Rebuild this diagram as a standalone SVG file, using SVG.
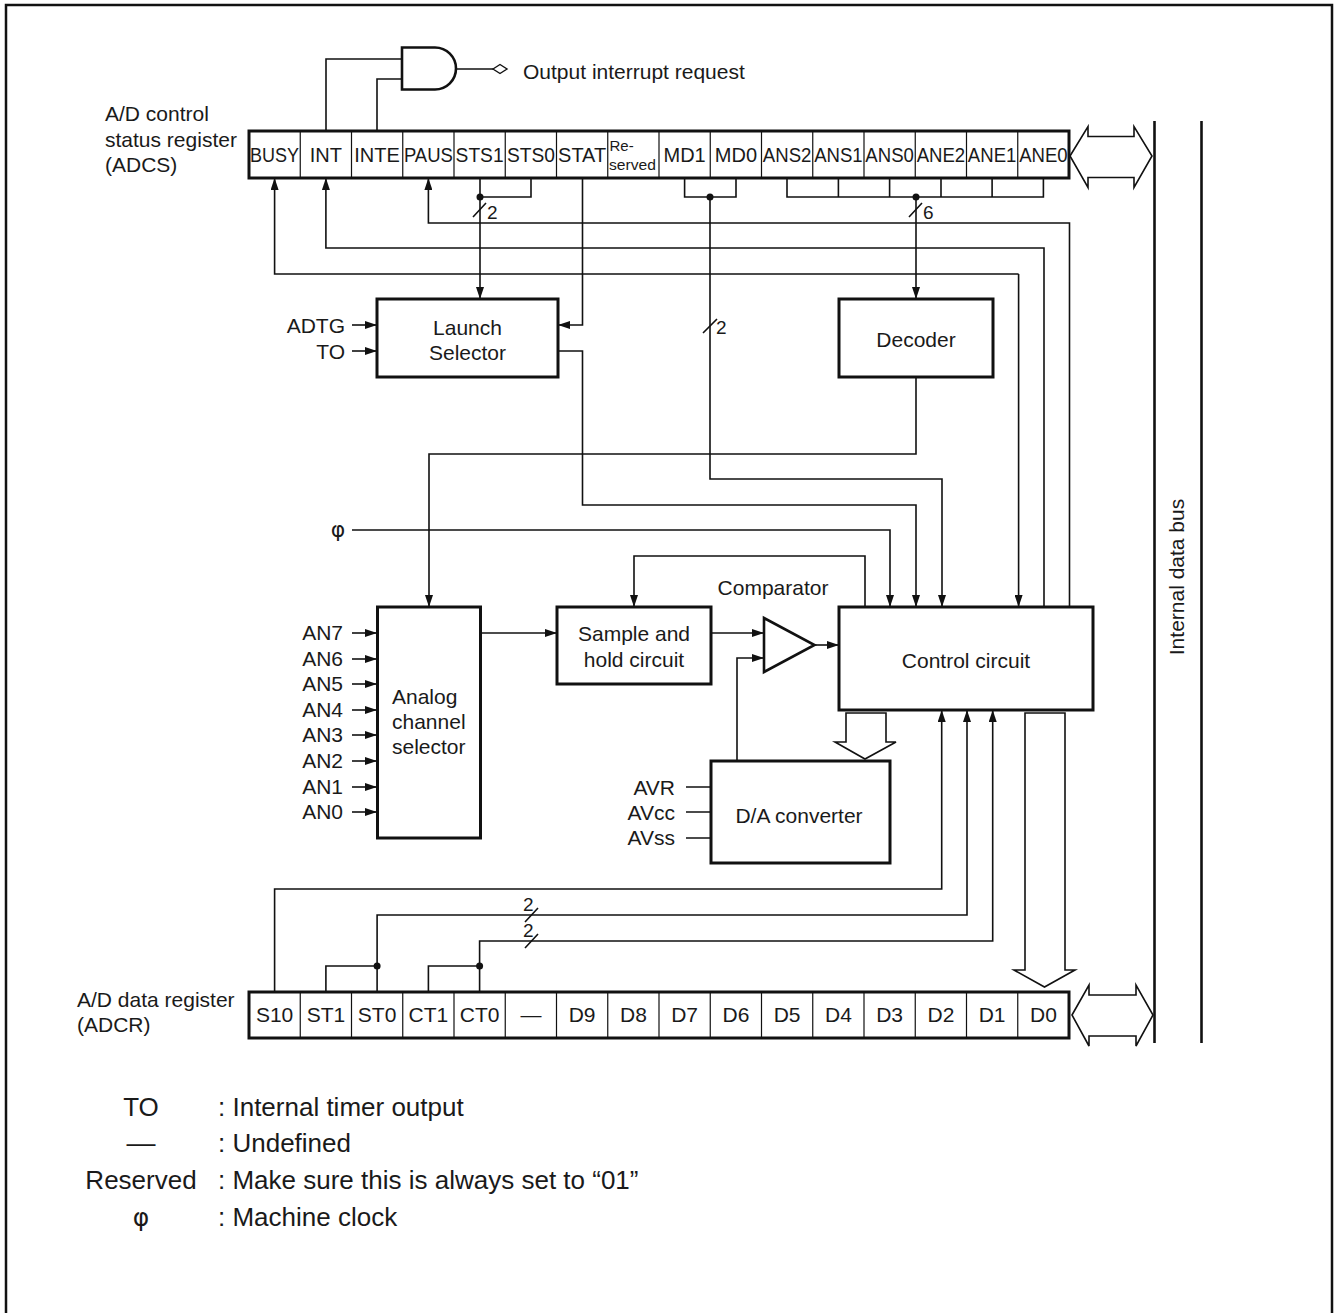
<svg xmlns="http://www.w3.org/2000/svg" width="1338" height="1313" viewBox="0 0 1338 1313">
<style>
.box{fill:#fff;stroke:#111;stroke-width:3}
.reg{fill:#fff;stroke:#111;stroke-width:3}
.sep{stroke:#111;stroke-width:1.2}
.w{fill:none;stroke:#111;stroke-width:1.6}
.fat{fill:#fff;stroke:#111;stroke-width:1.6}
.bus{stroke:#111;stroke-width:2.6}
text{font-family:"Liberation Sans",Arial,Helvetica,sans-serif;fill:#1a1a1a}
.t{font-size:21px}
.m{text-anchor:middle}
.e{text-anchor:end}
.r{font-size:20px;text-anchor:middle}
.phi{font-family:"DejaVu Sans","Noto Sans",sans-serif;font-size:22px;text-anchor:middle}
.lg{font-size:26px}
.dot{fill:#111}
</style>
<defs>
<marker id="ar" markerUnits="userSpaceOnUse" markerWidth="12" markerHeight="8" refX="12" refY="4" orient="auto">
<path d="M0,0 L12,4 L0,8 Z" fill="#111"/>
</marker>
</defs>
<rect width="1338" height="1313" fill="#fff"/>
<path d="M6,1313 V5 H1332 V1313" fill="none" stroke="#111" stroke-width="2.5"/>

<g id="connectors">
<path class="w" d="M326,131 V59 H402"/>
<path class="w" d="M377,131 V79 H402"/>
<path class="w" d="M456,69 H493"/>
<polygon points="493,69 500,64.5 507,69 500,73.5" fill="#fff" stroke="#111" stroke-width="1.4"/>
<path class="w" d="M531,178 V197 H480"/>
<path class="w" d="M480,178 V299" marker-end="url(#ar)"/>
<path class="w" d="M582.5,178 V325 H558" marker-end="url(#ar)"/>
<path class="w" d="M684.6,178 V197 H736 V178"/>
<path class="w" d="M710,197 V479 H942 V607" marker-end="url(#ar)"/>
<path class="w" d="M787,178 V197 H1043.4 V178 M838.4,178 V197 M889.6,178 V197 M941,178 V197 M992.1,178 V197"/>
<path class="w" d="M916,197 V299" marker-end="url(#ar)"/>
<path class="w" d="M1069.5,607 V223 H428.4 V178" marker-end="url(#ar)"/>
<path class="w" d="M1044,607 V248 H325.9 V178" marker-end="url(#ar)"/>
<path class="w" d="M1018.6,274 H274.6 V178" marker-end="url(#ar)"/>
<path class="w" d="M1018.6,274 V607" marker-end="url(#ar)"/>
<path class="w" d="M352,325 H377" marker-end="url(#ar)"/>
<path class="w" d="M352,351 H377" marker-end="url(#ar)"/>
<path class="w" d="M558,351 H582.5 V505 H916 V607" marker-end="url(#ar)"/>
<path class="w" d="M916,377 V454 H429 V607" marker-end="url(#ar)"/>
<path class="w" d="M352,530 H890 V607" marker-end="url(#ar)"/>
<path class="w" d="M865,607 V556 H634 V607" marker-end="url(#ar)"/>
<path class="w" d="M352,633 H377" marker-end="url(#ar)"/>
<path class="w" d="M352,659 H377" marker-end="url(#ar)"/>
<path class="w" d="M352,684 H377" marker-end="url(#ar)"/>
<path class="w" d="M352,710 H377" marker-end="url(#ar)"/>
<path class="w" d="M352,735 H377" marker-end="url(#ar)"/>
<path class="w" d="M352,761 H377" marker-end="url(#ar)"/>
<path class="w" d="M352,787 H377" marker-end="url(#ar)"/>
<path class="w" d="M352,812 H377" marker-end="url(#ar)"/>
<path class="w" d="M480,633 H557" marker-end="url(#ar)"/>
<path class="w" d="M711,633 H764" marker-end="url(#ar)"/>
<path class="w" d="M737,761 V658 H764" marker-end="url(#ar)"/>
<path class="w" d="M814.5,645 H839" marker-end="url(#ar)"/>
<path class="w" d="M686,787 H711 M686,812 H711 M686,838 H711"/>
<path class="w" d="M274.6,992 V889 H941.7 V710" marker-end="url(#ar)"/>
<path class="w" d="M325.9,992 V966 H377.1"/>
<path class="w" d="M377.1,992 V915 H967 V710" marker-end="url(#ar)"/>
<path class="w" d="M428.4,992 V966 H479.6"/>
<path class="w" d="M479.6,992 V941 H992.7 V710" marker-end="url(#ar)"/>
<circle class="dot" cx="480" cy="197" r="3.5"/>
<circle class="dot" cx="710" cy="197" r="3.5"/>
<circle class="dot" cx="916" cy="197" r="3.5"/>
<circle class="dot" cx="377.1" cy="966" r="3.5"/>
<circle class="dot" cx="479.6" cy="966" r="3.5"/>
<path class="w" d="M473,217 L486,203 M909,217 L922,203 M703,333 L717,319 M525,922 L538,908 M525,948 L538,934"/>
<text class="t" x="487" y="219" style="font-size:19px">2</text>
<text class="t" x="923" y="219" style="font-size:19px">6</text>
<text class="t" x="716" y="334" style="font-size:19px">2</text>
<text class="t" x="523" y="911" style="font-size:19px">2</text>
<text class="t" x="523" y="937" style="font-size:19px">2</text>
<polygon class="fat" points="846,713 886,713 886,742 896,742 865,759 835,742 846,742"/>
<polygon class="fat" points="1025,713 1065,713 1065,970 1075,970 1044.5,987 1014,970 1025,970"/>
<polygon class="fat" points="1070,156 1088,126.5 1088,136.5 1134,136.5 1134,126.5 1152,156 1134,187.5 1134,177.5 1088,177.5 1088,187.5"/>
<polygon class="fat" points="1072,1015 1089,985 1089,995 1136,995 1136,985 1153,1015 1136,1046 1136,1036 1089,1036 1089,1046"/>
<line class="bus" x1="1154.5" y1="121" x2="1154.5" y2="1043"/>
<line class="bus" x1="1201.5" y1="121" x2="1201.5" y2="1043"/>
</g>

<g id="and-gate">
<path d="M402,47.5 H435 A21,21 0 0 1 435,89.5 H402 Z" fill="#fff" stroke="#111" stroke-width="2.6"/>
<text class="t" x="523" y="79">Output interrupt request</text>
</g>

<g id="adcs">
<text class="t" x="105" y="121">A/D control</text>
<text class="t" x="105" y="147">status register</text>
<text class="t" x="105" y="172">(ADCS)</text>
<rect class="reg" x="249" y="131" width="820" height="47"/>
<path class="sep" d="M300.25,131V178 M351.5,131V178 M402.75,131V178 M454,131V178 M505.25,131V178 M556.5,131V178 M607.75,131V178 M659,131V178 M710.25,131V178 M761.5,131V178 M812.75,131V178 M864,131V178 M915.25,131V178 M966.5,131V178 M1017.75,131V178"/>
<text class="r" x="274.6" y="162" textLength="49" lengthAdjust="spacingAndGlyphs">BUSY</text>
<text class="r" x="325.9" y="162">INT</text>
<text class="r" x="377.1" y="162">INTE</text>
<text class="r" x="428.4" y="162" textLength="49" lengthAdjust="spacingAndGlyphs">PAUS</text>
<text class="r" x="479.6" y="162" textLength="48" lengthAdjust="spacingAndGlyphs">STS1</text>
<text class="r" x="530.9" y="162" textLength="48" lengthAdjust="spacingAndGlyphs">STS0</text>
<text class="r" x="582.1" y="162" textLength="48" lengthAdjust="spacingAndGlyphs">STAT</text>
<text x="609.5" y="151" style="font-size:15px">Re-</text>
<text x="609" y="170" style="font-size:15px" textLength="47" lengthAdjust="spacingAndGlyphs">served</text>
<text class="r" x="684.6" y="162">MD1</text>
<text class="r" x="735.9" y="162">MD0</text>
<text class="r" x="787.1" y="162" textLength="48.5" lengthAdjust="spacingAndGlyphs">ANS2</text>
<text class="r" x="838.4" y="162" textLength="48.5" lengthAdjust="spacingAndGlyphs">ANS1</text>
<text class="r" x="889.6" y="162" textLength="48.5" lengthAdjust="spacingAndGlyphs">ANS0</text>
<text class="r" x="940.9" y="162" textLength="48.5" lengthAdjust="spacingAndGlyphs">ANE2</text>
<text class="r" x="992.1" y="162" textLength="48.5" lengthAdjust="spacingAndGlyphs">ANE1</text>
<text class="r" x="1043.4" y="162" textLength="48.5" lengthAdjust="spacingAndGlyphs">ANE0</text>
</g>

<g id="launch-selector">
<rect class="box" x="377" y="299" width="181" height="78"/>
<text class="t m" x="467.5" y="335">Launch</text>
<text class="t m" x="467.5" y="360">Selector</text>
<text class="t e" x="345" y="333">ADTG</text>
<text class="t e" x="345" y="359">TO</text>
</g>

<g id="decoder">
<rect class="box" x="839" y="299" width="154" height="78"/>
<text class="t m" x="916" y="347">Decoder</text>
</g>

<g id="phi-input">
<text class="phi" x="338" y="537">φ</text>
</g>

<g id="analog-channel-selector">
<rect class="box" x="377.5" y="607" width="103" height="231"/>
<text class="t" x="392" y="704">Analog</text>
<text class="t" x="392" y="729">channel</text>
<text class="t" x="392" y="754">selector</text>
<text class="t e" x="343" y="640">AN7</text>
<text class="t e" x="343" y="666">AN6</text>
<text class="t e" x="343" y="691">AN5</text>
<text class="t e" x="343" y="717">AN4</text>
<text class="t e" x="343" y="742">AN3</text>
<text class="t e" x="343" y="768">AN2</text>
<text class="t e" x="343" y="794">AN1</text>
<text class="t e" x="343" y="819">AN0</text>
</g>

<g id="sample-hold">
<rect class="box" x="557" y="607" width="154" height="77"/>
<text class="t m" x="634" y="641">Sample and</text>
<text class="t m" x="634" y="667">hold circuit</text>
</g>

<g id="comparator">
<polygon points="764,618 764,672 814.5,645" fill="#fff" stroke="#111" stroke-width="2.6"/>
<text class="t m" x="773" y="595">Comparator</text>
</g>

<g id="control-circuit">
<rect class="box" x="839" y="607" width="254" height="103"/>
<text class="t m" x="966" y="668">Control circuit</text>
</g>

<g id="da-converter">
<rect class="box" x="711" y="761" width="179" height="102"/>
<text class="t m" x="799" y="823">D/A converter</text>
<text class="t e" x="675" y="795">AVR</text>
<text class="t e" x="675" y="820">AVcc</text>
<text class="t e" x="675" y="845">AVss</text>
</g>

<g id="internal-data-bus">
<text class="t m" transform="translate(1184,577) rotate(-90)">Internal data bus</text>
</g>

<g id="adcr">
<text class="t" x="77" y="1007">A/D data register</text>
<text class="t" x="77" y="1032">(ADCR)</text>
<rect class="reg" x="249" y="992" width="820" height="46"/>
<path class="sep" d="M300.25,992V1038 M351.5,992V1038 M402.75,992V1038 M454,992V1038 M505.25,992V1038 M556.5,992V1038 M607.75,992V1038 M659,992V1038 M710.25,992V1038 M761.5,992V1038 M812.75,992V1038 M864,992V1038 M915.25,992V1038 M966.5,992V1038 M1017.75,992V1038"/>
<text class="t m" x="274.6" y="1022">S10</text>
<text class="t m" x="325.9" y="1022">ST1</text>
<text class="t m" x="377.1" y="1022">ST0</text>
<text class="t m" x="428.4" y="1022">CT1</text>
<text class="t m" x="479.6" y="1022">CT0</text>
<text class="t m" x="530.9" y="1022">—</text>
<text class="t m" x="582.1" y="1022">D9</text>
<text class="t m" x="633.4" y="1022">D8</text>
<text class="t m" x="684.6" y="1022">D7</text>
<text class="t m" x="735.9" y="1022">D6</text>
<text class="t m" x="787.1" y="1022">D5</text>
<text class="t m" x="838.4" y="1022">D4</text>
<text class="t m" x="889.6" y="1022">D3</text>
<text class="t m" x="940.9" y="1022">D2</text>
<text class="t m" x="992.1" y="1022">D1</text>
<text class="t m" x="1043.4" y="1022">D0</text>
</g>

<g id="legend">
<text class="lg m" x="141" y="1116">TO</text>
<text class="lg" x="218" y="1116">: Internal timer output</text>
<text class="lg m" x="141" y="1152" textLength="29" lengthAdjust="spacingAndGlyphs">—</text>
<text class="lg" x="218" y="1152">: Undefined</text>
<text class="lg m" x="141" y="1189">Reserved</text>
<text class="lg" x="218" y="1189">: Make sure this is always set to “01”</text>
<text class="phi" x="141" y="1226" style="font-size:25px">φ</text>
<text class="lg" x="218" y="1226">: Machine clock</text>
</g>
</svg>
